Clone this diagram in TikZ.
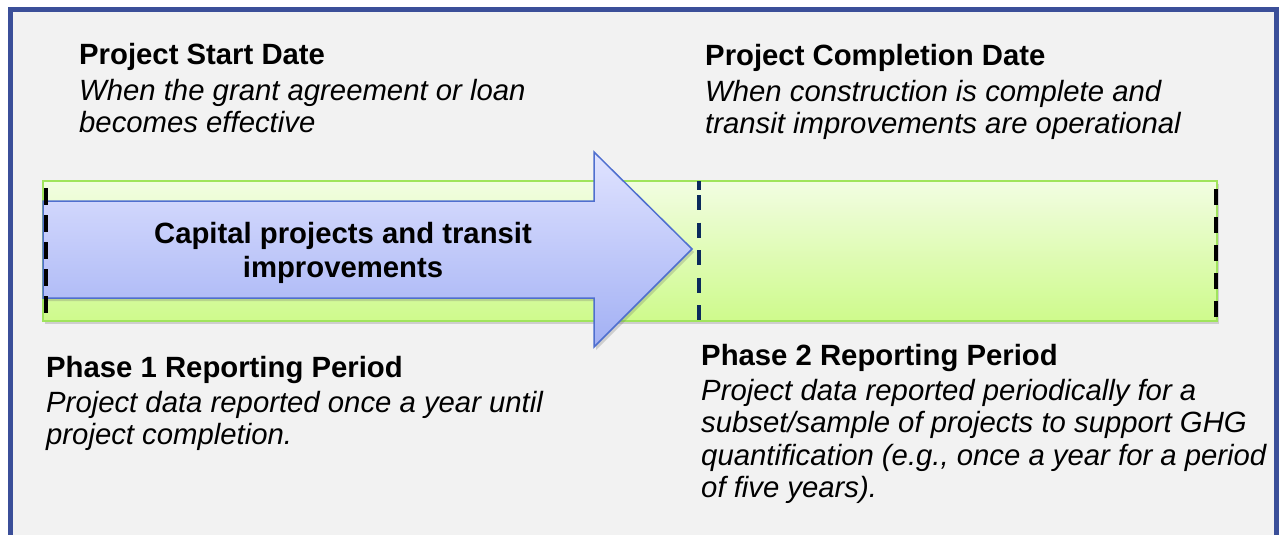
\documentclass[tikz,border=0pt]{standalone}
\usepackage{fontspec}
\setmainfont{Liberation Sans}
\usetikzlibrary{positioning,shadows}

\definecolor{frameblue}{RGB}{59,79,153}
\definecolor{panelgrey}{RGB}{242,242,242}
\definecolor{bartop}{RGB}{242,253,226}
\definecolor{barbottom}{RGB}{206,250,140}
\definecolor{baredge}{RGB}{160,228,92}
\definecolor{arrowtop}{RGB}{224,227,255}
\definecolor{arrowbottom}{RGB}{162,176,244}
\definecolor{arrowedge}{RGB}{79,111,207}
\definecolor{midnavy}{RGB}{11,42,92}

\tikzset{
  headtext/.style={anchor=base west, inner sep=0pt, font=\fontsize{29.3}{32}\selectfont\bfseries},
  bodytext/.style={anchor=north west, inner sep=0pt, align=left, font=\fontsize{29.3}{32.5}\selectfont\itshape},
  captext/.style={anchor=north, inner sep=0pt, align=center, font=\fontsize{29.3}{34}\selectfont\bfseries},
  milestone/.style={line width=3.8pt},
  softshadow/.style={drop shadow={shadow xshift=2pt, shadow yshift=-3pt, opacity=0.25, fill=black!60}},
}

\begin{document}
\begin{tikzpicture}[x=1pt,y=-1pt]
  \useasboundingbox (0,0) rectangle (1279,535);
  \fill[white] (0,0) rectangle (1279,535);
  \fill[panelgrey] (10,9) rectangle (1277,535);
  \draw[frameblue, line width=5pt] (10.5,535) -- (10.5,9.5) -- (1276.5,9.5) -- (1276.5,535); % open at the bottom

  % timeline bar
  \draw[baredge, line width=1.5pt, top color=bartop, bottom color=barbottom, softshadow] (43,181) rectangle (1217,321);
  % block arrow of phase 1
  \draw[arrowedge, line width=1.5pt, top color=arrowtop, bottom color=arrowbottom, softshadow]
    (43,201) -- (594,201) -- (594,152) -- (692,249) -- (594,347) -- (594,298) -- (43,298) -- cycle;

  % milestones
  \draw[milestone, black, dash pattern=on 17pt off 10pt] (46,188) -- (46,316);
  \draw[milestone, midnavy] (699,181) -- (699,190);
  \draw[milestone, midnavy, dash pattern=on 15pt off 12.5pt] (699,195) -- (699,321);
  \draw[milestone, black, dash pattern=on 16pt off 12pt] (1216,189) -- (1216,317);

  \node[captext] (capital) at (343,222) {Capital projects and transit\\improvements};

  \node[headtext] (startHead) at (79,65) {Project Start Date};
  \node[below=14pt of startHead.base west, bodytext] (startBody) {When the grant agreement or loan\\becomes effective};

  \node[headtext] (endHead) at (705,66) {Project Completion Date};
  \node[below=14pt of endHead.base west, bodytext] (endBody) {When construction is complete and\\transit improvements are operational};

  \node[headtext] (phaseOneHead) at (46,377) {Phase 1 Reporting Period};
  \node[below=14pt of phaseOneHead.base west, bodytext] (phaseOneBody) {Project data reported once a year until\\project completion.};

  \node[headtext] (phaseTwoHead) at (701,365) {Phase 2 Reporting Period};
  \node[below=14pt of phaseTwoHead.base west, bodytext] (phaseTwoBody) {Project data reported periodically for a\\subset/sample of projects to support GHG\\quantification (e.g., once a year for a period\\of five years).};
\end{tikzpicture}
\end{document}
